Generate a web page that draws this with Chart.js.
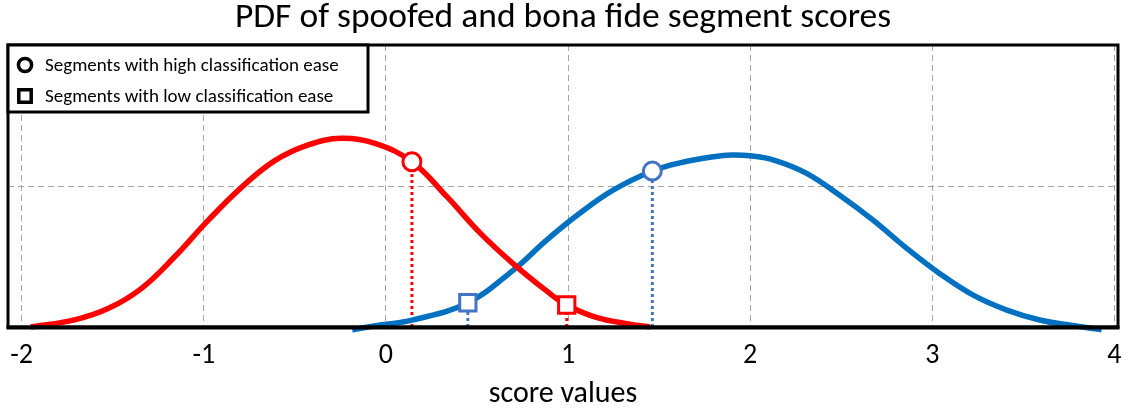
<!DOCTYPE html>
<html>
<head>
<meta charset="utf-8">
<script src="https://cdn.jsdelivr.net/npm/chart.js@4.4.1/dist/chart.umd.min.js"></script>
<style>
  html, body { margin: 0; padding: 0; background: #fff; }
  #wrap { width: 1127px; height: 409px; }
</style>
</head>
<body>
<div id="wrap"><canvas id="c"></canvas></div>
<script>
// ---- text ----
const titleText = 'PDF of spoofed and bona fide segment scores';
const xAxisTitle = 'score values';
const legendLabels = ['Segments with high classification ease', 'Segments with low classification ease'];
const legendShapes = ['circle', 'rect'];

// ---- axis ticks ----
const xTicks = [-2, -1, 0, 1, 2, 3, 4];
const yTicks = [0, 0.5, 1];

// ---- spoofed segment score density ----
const spoofX = [-1.95, -1.71, -1.52, -1.34, -1.16, -0.975, -0.79, -0.61, -0.43, -0.245, -0.06, 0.143, 0.335, 0.518, 0.70, 0.884, 0.993, 1.16, 1.34, 1.45];
const spoofY = [0.0, 0.025, 0.067, 0.138, 0.249, 0.379, 0.497, 0.590, 0.645, 0.669, 0.651, 0.586, 0.462, 0.333, 0.224, 0.127, 0.078, 0.033, 0.010, 0.0];

// ---- bona fide segment score density ----
const bonaX = [-0.185, -0.03, 0.15, 0.45, 0.70, 0.884, 1.066, 1.25, 1.463, 1.615, 1.80, 1.90, 2.0, 2.13, 2.31, 2.49, 2.675, 2.86, 3.04, 3.225, 3.41, 3.59, 3.77, 3.93];
const bonaY = [-0.01, 0.007, 0.025, 0.086, 0.202, 0.309, 0.404, 0.486, 0.553, 0.582, 0.604, 0.610, 0.607, 0.592, 0.545, 0.468, 0.379, 0.279, 0.19, 0.113, 0.060, 0.025, 0.005, -0.01];

// ---- marked segments (index 0: spoofed, index 1: bona fide) ----
const highEaseX = [0.143, 1.463];
const highEaseY = [0.586, 0.553];
const lowEaseX = [0.993, 0.45];
const lowEaseY = [0.078, 0.086];

const RED = '#FF0000';
const BLUE = '#0070C0';
const MARK_BLUE = '#4472C4';
const FONT = "Carlito, Lato, 'Open Sans', sans-serif";

const pts = (xs, ys) => xs.map((x, i) => ({ x: x, y: ys[i] }));
const dropLine = (x, y, color) => ({
  data: [{ x: x, y: 0 }, { x: x, y: y }],
  showLine: true,
  borderColor: color,
  borderWidth: 3,
  borderDash: [3, 3],
  borderCapStyle: 'butt',
  pointRadius: 0,
  order: 3
});
const marker = (x, y, color, style) => ({
  data: [{ x: x, y: y }],
  showLine: false,
  pointStyle: style,
  pointRadius: style === 'rect' ? 11.5 : 9,
  pointBorderWidth: 3,
  pointBorderColor: color,
  pointBackgroundColor: '#ffffff',
  order: 0
});
const curve = (xs, ys, color) => ({
  data: pts(xs, ys),
  showLine: true,
  borderColor: color,
  borderWidth: 5.5,
  tension: 0.4,
  pointRadius: 0,
  clip: false,
  order: 2
});

const datasets = [
  marker(highEaseX[0], highEaseY[0], RED, 'circle'),
  marker(highEaseX[1], highEaseY[1], MARK_BLUE, 'circle'),
  marker(lowEaseX[0], lowEaseY[0], RED, 'rect'),
  marker(lowEaseX[1], lowEaseY[1], MARK_BLUE, 'rect'),
  curve(spoofX, spoofY, RED),
  curve(bonaX, bonaY, BLUE),
  dropLine(highEaseX[0], highEaseY[0], RED),
  dropLine(highEaseX[1], highEaseY[1], MARK_BLUE),
  dropLine(lowEaseX[0], lowEaseY[0], RED),
  dropLine(lowEaseX[1], lowEaseY[1], MARK_BLUE)
];

// black frame around the plot area
const framePlugin = {
  id: 'frame',
  afterDatasetsDraw(chart) {
    const { ctx, chartArea: a } = chart;
    ctx.save();
    ctx.strokeStyle = '#000';
    ctx.lineWidth = 3;
    ctx.strokeRect(a.left, a.top, a.right - a.left, a.bottom - a.top);
    ctx.lineWidth = 4;
    ctx.beginPath();
    ctx.moveTo(a.left - 1.5, a.bottom + 0.5);
    ctx.lineTo(a.right + 1.5, a.bottom + 0.5);
    ctx.stroke();
    ctx.restore();
  }
};

// boxed key in the top-left corner of the plot area
const keyPlugin = {
  id: 'keyBox',
  afterDraw(chart) {
    const { ctx, chartArea: a } = chart;
    const boxW = 360, boxH = 67;
    ctx.save();
    ctx.fillStyle = '#fff';
    ctx.fillRect(a.left, a.top, boxW, boxH);
    ctx.strokeStyle = '#000';
    ctx.lineWidth = 3;
    ctx.strokeRect(a.left, a.top, boxW, boxH);
    ctx.font = '19px ' + FONT;
    ctx.textBaseline = 'middle';
    ctx.fillStyle = '#000';
    legendLabels.forEach((label, i) => {
      const cy = a.top + 20 + i * 31;
      const cx = a.left + 17;
      ctx.lineWidth = 3.5;
      ctx.beginPath();
      if (legendShapes[i] === 'circle') {
        ctx.arc(cx, cy, 6.6, 0, Math.PI * 2);
      } else {
        ctx.rect(cx - 6.2, cy - 6.2, 12.4, 12.4);
      }
      ctx.stroke();
      ctx.fillText(label, a.left + 37, cy + 1);
    });
    ctx.restore();
  }
};

Chart.defaults.color = '#000';
Chart.defaults.font.family = FONT;

new Chart(document.getElementById('c'), {
  type: 'scatter',
  data: { datasets: datasets },
  plugins: [framePlugin, keyPlugin],
  options: {
    responsive: true,
    maintainAspectRatio: false,
    animation: false,
    events: [],
    layout: { autoPadding: false, padding: { left: 8, right: 9, top: 0, bottom: 0 } },
    plugins: {
      legend: { display: false },
      tooltip: { enabled: false },
      title: {
        display: true,
        text: titleText,
        color: '#000',
        font: { size: 35.5, weight: 'normal', family: FONT, lineHeight: 1.0 },
        padding: { top: 0, bottom: 9.5 }
      }
    },
    scales: {
      x: {
        type: 'linear',
        min: -2.075,
        max: 4.02,
        afterBuildTicks(scale) { scale.ticks = xTicks.map(v => ({ value: v })); },
        afterFit(scale) { scale.paddingLeft = 0; scale.paddingRight = 0; scale.height = 82; },
        ticks: { font: { size: 28 }, padding: 12, color: '#000' },
        grid: { color: '#a6a6a6', lineWidth: 1, drawTicks: false },
        border: { display: false, dash: [6, 4] },
        title: { display: true, text: xAxisTitle, font: { size: 30 }, padding: { top: 0, bottom: -3 }, color: '#000' }
      },
      y: {
        type: 'linear',
        min: 0,
        max: 1,
        afterBuildTicks(scale) { scale.ticks = yTicks.map(v => ({ value: v })); },
        afterFit(scale) { scale.width = 0; },
        ticks: { display: false },
        grid: { color: '#a6a6a6', lineWidth: 1, drawTicks: false },
        border: { display: false, dash: [6, 4] }
      }
    }
  }
});
</script>
</body>
</html>
